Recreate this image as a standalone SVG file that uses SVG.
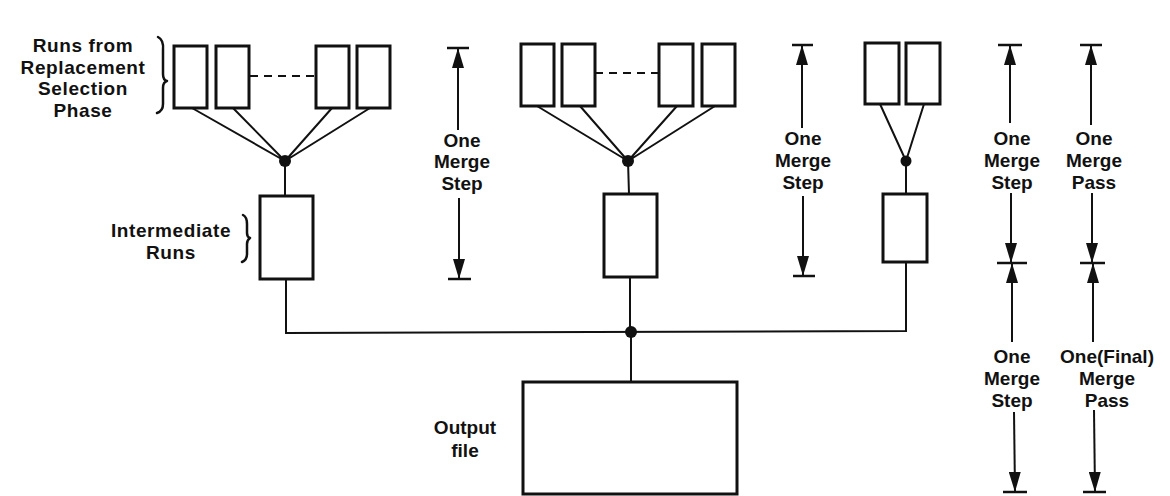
<svg xmlns="http://www.w3.org/2000/svg" width="1170" height="496" viewBox="0 0 1170 496">
<style>
.bx{fill:#fff;stroke:#111;stroke-width:3}
.ln{fill:none;stroke:#111;stroke-width:2}
.ds{fill:none;stroke:#111;stroke-width:2;stroke-dasharray:8 6}
.br{fill:none;stroke:#111;stroke-width:2.5;stroke-linecap:round;stroke-linejoin:round}
.dot{fill:#111}
.ar{fill:none;stroke:#111;stroke-width:2;marker-end:url(#ah)}
.tk{fill:none;stroke:#111;stroke-width:2.5}
text{font-family:"Liberation Sans",Arial,sans-serif;font-size:19px;font-weight:bold;fill:#111;text-anchor:middle}
.lb{letter-spacing:0.6px}
</style>
<defs>
<marker id="ah" viewBox="0 0 20 12" refX="20" refY="6" markerWidth="20" markerHeight="12" markerUnits="userSpaceOnUse" orient="auto">
<path d="M0,0 L20,6 L0,12 z" fill="#111"/>
</marker>
</defs>
<rect width="1170" height="496" fill="#fff"/>

<g id="label-runs" class="lb">
<text x="83" y="52">Runs from</text>
<text x="83" y="74">Replacement</text>
<text x="83" y="95">Selection</text>
<text x="83" y="117">Phase</text>
<path class="br" d="M158,37 Q164,40 163,50 L163,74 Q163,80 167,81 Q163,82 163,88 L163,104 Q163,111 157,113"/>
</g>
<g id="label-intermediate" class="lb">
<text x="171" y="237">Intermediate</text>
<text x="171" y="259">Runs</text>
<path class="br" d="M243,215 Q247,217 247,224 L247,233 Q247,237 250,238 Q247,240 247,244 L247,254 Q247,260 242,262"/>
</g>
<g id="label-output">
<text x="465" y="434">Output</text>
<text x="465" y="457">file</text>
</g>

<g id="runs-left">
<rect class="bx" x="174" y="46" width="33" height="62"/>
<rect class="bx" x="216" y="46" width="33" height="62"/>
<rect class="bx" x="316" y="46" width="33" height="62"/>
<rect class="bx" x="357" y="46" width="33" height="62"/>
</g>
<g id="runs-middle">
<rect class="bx" x="521" y="44" width="33" height="62"/>
<rect class="bx" x="562" y="44" width="33" height="62"/>
<rect class="bx" x="659" y="44" width="34" height="62"/>
<rect class="bx" x="702" y="44" width="33" height="62"/>
</g>
<g id="runs-right">
<rect class="bx" x="865" y="43" width="34" height="61"/>
<rect class="bx" x="906" y="43" width="34" height="61"/>
</g>
<g id="intermediate-left"><rect class="bx" x="260" y="196" width="53" height="83"/></g>
<g id="intermediate-middle"><rect class="bx" x="604" y="194" width="53" height="83"/></g>
<g id="intermediate-right"><rect class="bx" x="883" y="194" width="44" height="68"/></g>
<g id="output-file"><rect class="bx" x="523" y="382" width="214" height="112"/></g>

<g id="connectors">
<line class="ds" x1="250" y1="76" x2="315" y2="76"/>
<line class="ds" x1="595" y1="73" x2="658" y2="73"/>
<path class="ln" d="M192,108 L285,161 M233,108 L285,161 M332,108 L285,161 M370,108 L285,161"/>
<path class="ln" d="M537,106 L628,161 M580,106 L628,161 M677,106 L628,161 M715,106 L628,161"/>
<path class="ln" d="M880,104 L906,161 M924,104 L906,161"/>
<circle class="dot" cx="285" cy="161" r="6"/>
<circle class="dot" cx="628" cy="161" r="6"/>
<circle class="dot" cx="906" cy="161" r="5.5"/>
<path class="ln" d="M285,161 L285,196 M628,161 L629,194 M906,161 L906,194"/>
<path class="ln" stroke-width="2.5" d="M286,279 L286,333 L906,331 L906,262 M630,277 L630,333 M631,332 L631,382"/>
<circle class="dot" cx="631" cy="332" r="6"/>
</g>

<g id="dim-step-1">
<line class="ar" x1="458" y1="130" x2="458" y2="48"/>
<line class="tk" x1="447" y1="48" x2="469" y2="48"/>
<text x="462" y="147">One</text>
<text x="462" y="168">Merge</text>
<text x="462" y="190">Step</text>
<line class="ar" x1="459" y1="198" x2="459" y2="279"/>
<line class="tk" x1="448" y1="279" x2="471" y2="279"/>
</g>
<g id="dim-step-2">
<line class="ar" x1="802" y1="128" x2="802" y2="45"/>
<line class="tk" x1="792" y1="45" x2="813" y2="45"/>
<text x="803" y="145">One</text>
<text x="803" y="167">Merge</text>
<text x="803" y="189">Step</text>
<line class="ar" x1="803" y1="196" x2="803" y2="276"/>
<line class="tk" x1="793" y1="276" x2="815" y2="276"/>
</g>
<g id="dim-step-3">
<line class="ar" x1="1010" y1="123" x2="1010" y2="45"/>
<line class="tk" x1="998" y1="45" x2="1022" y2="45"/>
<text x="1012" y="145">One</text>
<text x="1012" y="167">Merge</text>
<text x="1012" y="189">Step</text>
<line class="ar" x1="1011" y1="193" x2="1011" y2="263"/>
<line class="tk" x1="997" y1="263" x2="1027" y2="263"/>
<line class="ar" x1="1012" y1="342" x2="1012" y2="263"/>
<text x="1012" y="363">One</text>
<text x="1012" y="385">Merge</text>
<text x="1012" y="407">Step</text>
<line class="ar" x1="1014" y1="412" x2="1015" y2="492"/>
<line class="tk" x1="1003" y1="492" x2="1027" y2="492"/>
</g>
<g id="dim-pass">
<line class="ar" x1="1091" y1="125" x2="1091" y2="45"/>
<line class="tk" x1="1080" y1="45" x2="1102" y2="45"/>
<text x="1094" y="145">One</text>
<text x="1094" y="167">Merge</text>
<text x="1094" y="189">Pass</text>
<line class="ar" x1="1092" y1="193" x2="1092" y2="263"/>
<line class="tk" x1="1080" y1="263" x2="1105" y2="263"/>
<line class="ar" x1="1093" y1="342" x2="1093" y2="263"/>
<text x="1107" y="363">One(Final)</text>
<text x="1107" y="385">Merge</text>
<text x="1107" y="407">Pass</text>
<line class="ar" x1="1094" y1="410" x2="1095" y2="492"/>
<line class="tk" x1="1083" y1="492" x2="1106" y2="492"/>
</g>
</svg>
